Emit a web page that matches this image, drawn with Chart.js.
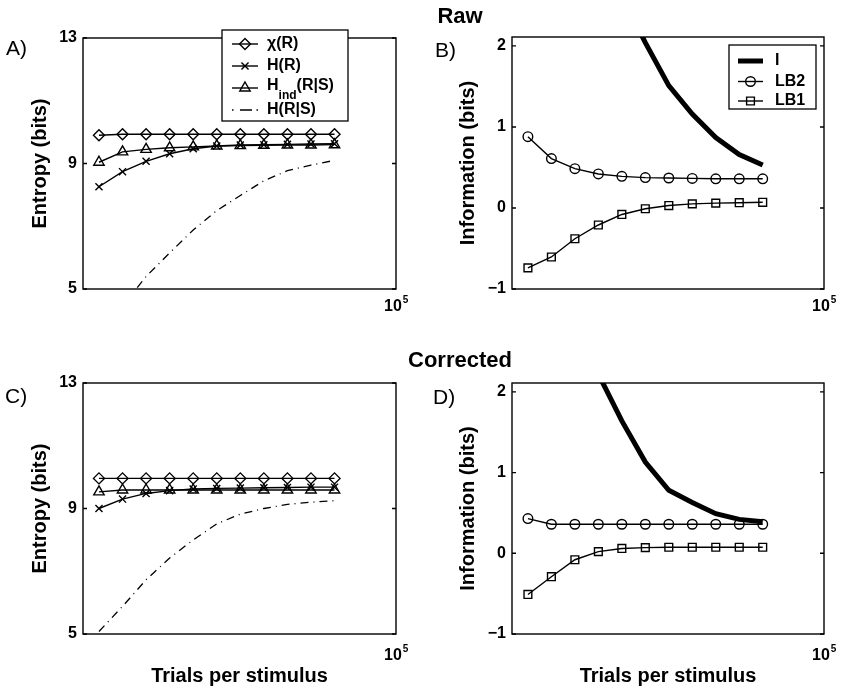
<!DOCTYPE html>
<html>
<head>
<meta charset="utf-8">
<script src="https://cdn.jsdelivr.net/npm/chart.js@4.4.1/dist/chart.umd.min.js"></script>
<style>
  html, body { margin: 0; padding: 0; background: #fff; }
  #fig { position: relative; width: 845px; height: 690px; overflow: hidden; font-family: 'Liberation Sans', Arial, sans-serif; color: #000; }
  canvas { position: absolute; }
  .ttl { position: absolute; width: 200px; text-align: center; font-weight: bold; font-size: 22px; line-height: 22px; }
  .lab { position: absolute; font-size: 21px; line-height: 21px; }
</style>
</head>
<body>
<div id="fig">
  <canvas id="cA" width="420" height="320" style="left:0;top:0"></canvas>
  <canvas id="cB" width="425" height="320" style="left:420px;top:0"></canvas>
  <canvas id="cC" width="420" height="370" style="left:0;top:320px"></canvas>
  <canvas id="cD" width="425" height="370" style="left:420px;top:320px"></canvas>
  <div class="ttl" style="left:360px;top:5px">Raw</div>
  <div class="ttl" style="left:360px;top:349px">Corrected</div>
  <div class="lab" style="left:6px;top:37px">A)</div>
  <div class="lab" style="left:435px;top:39px">B)</div>
  <div class="lab" style="left:5px;top:385px">C)</div>
  <div class="lab" style="left:433px;top:386px">D)</div>
</div>
<script>
// trials per stimulus (log axis)
const trials = [16, 32, 64, 128, 256, 512, 1024, 2048, 4096, 8192, 16384];
const xMin = 10, xMax = 100000;
const entropyTicks = [5, 9, 13];
const infoTicks = [-1, 0, 1, 2];

// raw estimates
const rawChi   = [9.90, 9.93, 9.93, 9.93, 9.93, 9.93, 9.93, 9.93, 9.93, 9.93, 9.93];
const rawH     = [8.26, 8.74, 9.07, 9.31, 9.47, 9.56, 9.59, 9.60, 9.61, 9.62, 9.63];
const rawHind  = [9.04, 9.37, 9.45, 9.50, 9.53, 9.56, 9.57, 9.58, 9.59, 9.59, 9.60];
const rawHcond = [3.7, 4.45, 5.4, 6.15, 6.88, 7.5, 7.98, 8.45, 8.77, 8.95, 9.1];
const rawI     = [null, null, null, null, 2.62, 2.04, 1.51, 1.16, 0.87, 0.66, 0.53];
const rawLB2   = [0.88, 0.61, 0.485, 0.42, 0.39, 0.375, 0.37, 0.365, 0.36, 0.36, 0.36];
const rawLB1   = [-0.74, -0.605, -0.38, -0.21, -0.08, -0.01, 0.03, 0.05, 0.06, 0.065, 0.07];

// bias-corrected estimates
const corChi   = [9.96, 9.96, 9.96, 9.96, 9.96, 9.96, 9.96, 9.96, 9.96, 9.96, 9.96];
const corH     = [9.0, 9.3, 9.48, 9.57, 9.62, 9.64, 9.65, 9.66, 9.67, 9.68, 9.68];
const corHind  = [9.53, 9.59, 9.59, 9.59, 9.59, 9.59, 9.59, 9.59, 9.59, 9.59, 9.59];
const corHcond = [5.08, 5.88, 6.73, 7.42, 8.0, 8.51, 8.82, 9.0, 9.13, 9.2, 9.25];
const corI     = [null, null, null, 2.22, 1.64, 1.13, 0.78, 0.63, 0.49, 0.42, 0.39];
const corLB2   = [0.43, 0.36, 0.36, 0.36, 0.36, 0.36, 0.36, 0.36, 0.36, 0.36, 0.36];
const corLB1   = [-0.51, -0.29, -0.08, 0.02, 0.06, 0.07, 0.075, 0.075, 0.075, 0.075, 0.075];

const FONT = "'Liberation Sans', Arial, sans-serif";
Chart.defaults.font.family = FONT;
Chart.defaults.color = '#000';

const pts = vals => trials.map((t, i) => ({ x: t, y: vals[i] }));

function marked(vals, style, r) {
  return {
    data: pts(vals), borderColor: '#000', borderWidth: 1.4, tension: 0,
    pointStyle: style, pointRadius: r, pointBorderColor: '#000',
    pointBackgroundColor: 'rgba(0,0,0,0)', pointBorderWidth: 1.4
  };
}
function thick(vals) {
  return { data: pts(vals), borderColor: '#000', borderWidth: 5, pointRadius: 0, tension: 0, clip: 0 };
}
function dashdot(vals) {
  return { data: pts(vals), borderColor: '#000', borderWidth: 1.3, borderDash: [8, 5, 1, 5], pointRadius: 0, tension: 0, clip: 0 };
}

// small marker painter for the legend samples
function mark(ctx, style, x, y, r) {
  ctx.beginPath();
  if (style === 'circle') {
    ctx.arc(x, y, r, 0, Math.PI * 2);
  } else if (style === 'rect') {
    const s = r * Math.SQRT1_2;
    ctx.rect(x - s, y - s, 2 * s, 2 * s);
  } else if (style === 'rectRot') {
    ctx.moveTo(x - r, y); ctx.lineTo(x, y - r); ctx.lineTo(x + r, y); ctx.lineTo(x, y + r); ctx.closePath();
  } else if (style === 'triangle') {
    ctx.moveTo(x, y - r);
    ctx.lineTo(x + r * Math.sin(Math.PI * 2 / 3), y - r * Math.cos(Math.PI * 2 / 3));
    ctx.lineTo(x + r * Math.sin(Math.PI * 4 / 3), y - r * Math.cos(Math.PI * 4 / 3));
    ctx.closePath();
  } else if (style === 'crossRot') {
    const s = r * Math.SQRT1_2;
    ctx.moveTo(x - s, y - s); ctx.lineTo(x + s, y + s);
    ctx.moveTo(x + s, y - s); ctx.lineTo(x - s, y + s);
  }
  ctx.stroke();
}

const framePlugin = {
  id: 'frame',
  afterDraw(chart, args, opts) {
    const { ctx, chartArea: a, scales } = chart;
    ctx.save();
    ctx.strokeStyle = '#000';
    ctx.lineWidth = 1.4;
    ctx.strokeRect(a.left, a.top, a.right - a.left, a.bottom - a.top);
    // inward tick marks
    scales.y.ticks.forEach(t => {
      const py = scales.y.getPixelForValue(t.value);
      ctx.beginPath();
      ctx.moveTo(a.left, py); ctx.lineTo(a.left + 4, py);
      ctx.moveTo(a.right, py); ctx.lineTo(a.right - 4, py);
      ctx.stroke();
    });
    // 10^5 label at the end of the x axis
    const px = scales.x.getPixelForValue(xMax);
    ctx.fillStyle = '#000';
    ctx.textBaseline = 'middle';
    ctx.textAlign = 'left';
    ctx.font = 'bold 16px ' + FONT;
    const w = ctx.measureText('10').width;
    ctx.fillText('10', px - 12, opts.expY);
    ctx.font = 'bold 10px ' + FONT;
    ctx.fillText('5', px - 12 + w + 1, opts.expY - 7);

    // legend box
    const lg = opts.legend;
    if (lg) {
      const [x0, y0, x1, y1] = lg.box;
      ctx.fillStyle = '#fff';
      ctx.fillRect(x0, y0, x1 - x0, y1 - y0);
      ctx.lineWidth = 1.3;
      ctx.strokeRect(x0, y0, x1 - x0, y1 - y0);
      lg.rows.forEach(row => {
        const sy = row.sy !== undefined ? row.sy : row.y;
        ctx.strokeStyle = '#000';
        if (row.dots) {
          ctx.lineWidth = 1.3;
          ctx.beginPath();
          ctx.moveTo(lg.sx0, sy); ctx.lineTo(lg.sx0 + 1.5, sy);
          ctx.moveTo(lg.sx0 + 8, sy); ctx.lineTo(lg.sx0 + 20, sy);
          ctx.moveTo(lg.sx1 - 1.5, sy); ctx.lineTo(lg.sx1, sy);
          ctx.stroke();
        } else {
          ctx.lineWidth = row.lw || 1.4;
          ctx.beginPath();
          ctx.moveTo(lg.sx0, sy); ctx.lineTo(lg.sx1, sy);
          ctx.stroke();
          if (row.style) {
            ctx.lineWidth = 1.4;
            mark(ctx, row.style, (lg.sx0 + lg.sx1) / 2, sy, row.r);
          }
        }
        ctx.fillStyle = '#000';
        ctx.textBaseline = 'middle';
        let tx = lg.tx;
        row.parts.forEach(([txt, size, dy]) => {
          ctx.font = 'bold ' + size + 'px ' + FONT;
          ctx.fillText(txt, tx, row.y + dy);
          tx += ctx.measureText(txt).width;
        });
      });
    }
    ctx.restore();
  }
};

function panel(id, p) {
  return new Chart(document.getElementById(id), {
    type: 'line',
    data: { datasets: p.datasets },
    options: {
      responsive: false,
      animation: false,
      devicePixelRatio: 1,
      layout: { padding: p.pad },
      plugins: {
        legend: { display: false },
        tooltip: { enabled: false },
        frame: { expY: p.expY, legend: p.legend }
      },
      scales: {
        x: {
          type: 'logarithmic', min: xMin, max: xMax,
          grid: { display: false, drawTicks: false },
          border: { display: false },
          ticks: { display: false },
          title: {
            display: !!p.xTitle, text: 'Trials per stimulus', color: '#000',
            font: { size: 20, weight: 'bold' }, padding: { top: 0, bottom: 2 }
          },
          afterFit: s => { s.height = p.xh; }
        },
        y: {
          min: p.yMin, max: p.yMax,
          afterBuildTicks: s => { s.ticks = p.yTicks.map(v => ({ value: v })); },
          grid: { display: false, drawTicks: false },
          border: { display: false },
          ticks: {
            color: '#000', padding: 6, font: { size: 16, weight: 'bold' },
            callback: v => v < 0 ? '\u2212' + Math.abs(v) : String(v)
          },
          title: {
            display: true, text: p.yTitle, color: '#000',
            font: { size: 20, weight: 'bold' }, padding: { top: p.yt, bottom: 0 }
          },
          afterFit: s => { s.width = p.yw; }
        }
      }
    },
    plugins: [framePlugin]
  });
}

const entropyLegend = {
  box: [222, 30, 348, 121], sx0: 232, sx1: 258, tx: 267,
  rows: [
    { y: 44, style: 'rectRot', r: 5.5, parts: [['\u03c7(R)', 16, 0]] },
    { y: 66, style: 'crossRot', r: 5, parts: [['H(R)', 16, 0]] },
    { y: 86, sy: 88, style: 'triangle', r: 6, parts: [['H', 16, 0], ['ind', 12, 10], ['(R|S)', 16, 0]] },
    { y: 110, dots: true, parts: [['H(R|S)', 16, 0]] }
  ]
};
const infoLegend = {
  box: [309, 45, 396, 109], sx0: 318, sx1: 343, tx: 355,
  rows: [
    { y: 61, lw: 5, parts: [['I', 16, 0]] },
    { y: 81.5, style: 'circle', r: 4.8, parts: [['LB2', 16, 0]] },
    { y: 101, style: 'rect', r: 5.5, parts: [['LB1', 16, 0]] }
  ]
};

panel('cA', {
  datasets: [marked(rawChi, 'rectRot', 5.5), marked(rawH, 'crossRot', 5), marked(rawHind, 'triangle', 6), dashdot(rawHcond)],
  pad: { left: 0, right: 24, top: 38, bottom: 0 }, xh: 31, yw: 83, yt: 28,
  yMin: 5, yMax: 13, yTicks: entropyTicks, yTitle: 'Entropy (bits)', expY: 307, legend: entropyLegend
});
panel('cB', {
  datasets: [thick(rawI), marked(rawLB2, 'circle', 4.8), marked(rawLB1, 'rect', 5.5)],
  pad: { left: 0, right: 21, top: 37, bottom: 0 }, xh: 31, yw: 92, yt: 36,
  yMin: -1, yMax: 2.11, yTicks: infoTicks, yTitle: 'Information (bits)', expY: 307, legend: infoLegend
});
panel('cC', {
  datasets: [marked(corChi, 'rectRot', 5.5), marked(corH, 'crossRot', 5), marked(corHind, 'triangle', 6), dashdot(corHcond)],
  pad: { left: 0, right: 24, top: 63, bottom: 0 }, xh: 56, yw: 83, yt: 28, xTitle: true,
  yMin: 5, yMax: 13, yTicks: entropyTicks, yTitle: 'Entropy (bits)', expY: 336
});
panel('cD', {
  datasets: [thick(corI), marked(corLB2, 'circle', 4.8), marked(corLB1, 'rect', 5.5)],
  pad: { left: 0, right: 21, top: 63, bottom: 0 }, xh: 56, yw: 92, yt: 36, xTitle: true,
  yMin: -1, yMax: 2.11, yTicks: infoTicks, yTitle: 'Information (bits)', expY: 336
});
</script>
</body>
</html>
